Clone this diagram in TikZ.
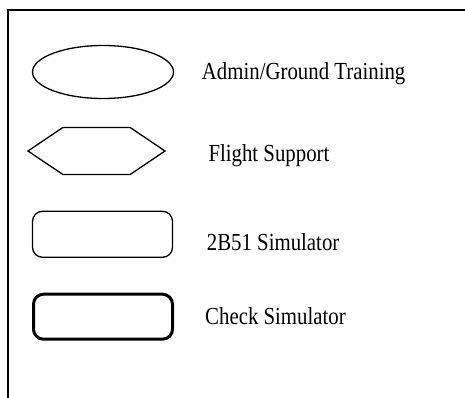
\documentclass[tikz,border=0pt]{standalone}
\usepackage{fontspec}
\setmainfont{Liberation Serif}[FakeStretch=0.85]
\usetikzlibrary{positioning, shapes.geometric, shapes.symbols}

\tikzset{
  shapebox/.style={draw, line width=1.3pt, inner sep=0pt},
  lbl/.style={anchor=base west, inner sep=0pt, font=\fontsize{24.5}{28}\selectfont}
}

\begin{document}
\begin{tikzpicture}[x=1pt, y=-1pt]
  \useasboundingbox (0,0) rectangle (465,398);
  % outer frame
  \draw [line width=2pt] (8.3,398) -- (8.3,10.3) -- (465,10.3);
  % legend symbols
  \node (adm) at (103,72) [shapebox, ellipse, minimum width=141, minimum height=53] {};
  \node (flt) at (96.5,151) [shapebox, signal, signal to=east and west,
    signal pointer angle=68, minimum width=137, minimum height=47] {};
  \node (sim) at (102.5,234.3) [shapebox, rectangle, rounded corners=10,
    minimum width=140, minimum height=46] {};
  \node (chk) at (103,316.7) [shapebox, rectangle, rounded corners=10,
    line width=3pt, minimum width=139, minimum height=45] {};
  % labels
  \node (admlbl) at (201.7,80) [lbl] {Admin/Ground Training};
  \node (fltlbl) at (208.3,161.7) [lbl] {Flight Support};
  \node (simlbl) at (206.7,250) [lbl] {2B51 Simulator};
  \node (chklbl) at (205,324) [lbl] {Check Simulator};
\end{tikzpicture}
\end{document}
